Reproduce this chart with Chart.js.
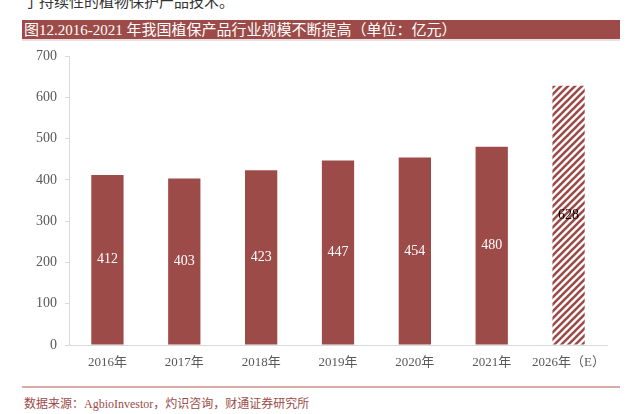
<!DOCTYPE html>
<html>
<head>
<meta charset="utf-8">
<script src="https://cdn.jsdelivr.net/npm/chart.js@4"></script>
<style>
  body { margin: 0; width: 640px; height: 414px; background: #fff; position: relative; overflow: hidden; }
  #topText { position: absolute; left: 24px; top: -10px; font: 15px "Noto Sans CJK SC", serif; color: #333; }
  #title { position: absolute; left: 22px; top: 20px; width: 598px; height: 21px; background: #9c4b48;
    color: #fff; font: 15px "Liberation Serif", "Noto Sans CJK SC", serif; line-height: 21px; padding-left: 2px; box-sizing: border-box;
    border-bottom: 2px solid #e8e0df; }
  #wrap { position: absolute; left: 20px; top: 46px; width: 600px; height: 330px; }
  #srcLine { position: absolute; left: 22px; top: 386px; width: 598px; height: 2px; background: #d9aaa7; }
  #source { position: absolute; left: 24px; top: 394px; font: 12px "Liberation Serif", "Noto Sans CJK SC", serif; color: #9c4b48; }
</style>
</head>
<body>
<div id="topText">了持续性的植物保护产品技术。</div>
<div id="title">图12.2016-2021 年我国植保产品行业规模不断提高（单位：亿元）</div>
<div id="wrap"><canvas id="myChart"></canvas></div>
<div id="srcLine"></div>
<div id="source">数据来源：AgbioInvestor，灼识咨询，财通证券研究所</div>
<script>
'use strict';

let years = ['2016年', '2017年', '2018年', '2019年', '2020年', '2021年', '2026年（E）'];
let marketSize = [412, 403, 423, 447, 454, 480, 628];
let yTicks = [0, 100, 200, 300, 400, 500, 600, 700];

let barColor = '#9c4b48';

// hatch for the forecast bar
function makeHatch() {
  let c = document.createElement('canvas');
  c.width = 7;
  c.height = 7;
  let g = c.getContext('2d');
  g.strokeStyle = barColor;
  g.lineWidth = 2.6;
  g.beginPath();
  g.moveTo(-1, 8); g.lineTo(8, -1);
  g.moveTo(-4, 4); g.lineTo(4, -4);
  g.moveTo(3, 11); g.lineTo(11, 3);
  g.stroke();
  return g.createPattern(c, 'repeat');
}

let colors = [];
for (let i = 0; i < marketSize.length; i++) {
  colors.push(i === marketSize.length - 1 ? makeHatch() : barColor);
}

let valueLabels = {
  id: 'valueLabels',
  afterDatasetsDraw(chart) {
    let ctx = chart.ctx;
    let meta = chart.getDatasetMeta(0);
    ctx.save();
    ctx.font = '14px "Liberation Serif", serif';
    ctx.textAlign = 'center';
    ctx.textBaseline = 'middle';
    meta.data.forEach(function (bar, i) {
      ctx.fillStyle = i === marketSize.length - 1 ? '#000' : '#fff';
      ctx.fillText(marketSize[i], bar.x, (bar.y + bar.base) / 2);
    });
    ctx.restore();
  }
};

let ctx = document.getElementById('myChart').getContext('2d');
let myChart = new Chart(ctx, {
  type: 'bar',
  data: {
    labels: years,
    datasets: [{
      data: marketSize,
      backgroundColor: colors,
      borderWidth: 0,
      barPercentage: 0.42,
      categoryPercentage: 1
    }]
  },
  options: {
    responsive: true,
    maintainAspectRatio: false,
    animation: false,
    layout: { padding: { top: 10, right: 13, left: 0, bottom: 0 } },
    plugins: { legend: { display: false }, tooltip: { enabled: false } },
    scales: {
      x: {
        grid: { display: true, drawOnChartArea: false, drawTicks: false },
        border: { color: '#d9d9d9', width: 1 },
        ticks: { color: '#595959', padding: 10, maxRotation: 0,
          font: { family: '"Liberation Serif", "Noto Sans CJK SC", serif', size: 13 } },
        afterFit(scale) { scale.height = 31; }
      },
      y: {
        min: 0,
        max: 700,
        afterBuildTicks(scale) { scale.ticks = yTicks.map(v => ({ value: v })); },
        grid: { display: true, drawOnChartArea: false, drawTicks: true, tickLength: 4, color: '#d9d9d9' },
        border: { color: '#d9d9d9', width: 1 },
        ticks: { color: '#595959', padding: 8,
          font: { family: '"Liberation Serif", serif', size: 14 } },
        afterFit(scale) {
          scale.width = 49;
          scale.paddingTop = 0;
          scale.paddingBottom = 0;
        }
      }
    }
  },
  plugins: [valueLabels]
});
</script>
</body>
</html>
